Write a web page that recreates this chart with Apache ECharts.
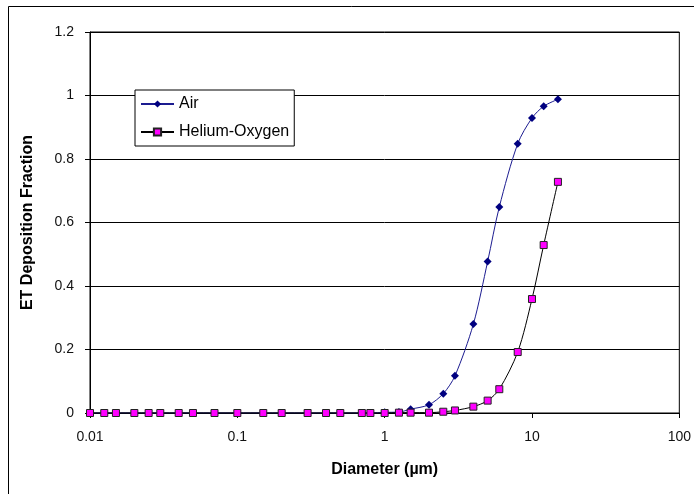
<!DOCTYPE html>
<html>
<head>
<meta charset="utf-8">
<script src="https://cdn.jsdelivr.net/npm/echarts@6/dist/echarts.min.js"></script>
<style>
  html, body { margin: 0; padding: 0; background: #fff; }
  #chart { width: 694px; height: 494px; }
</style>
</head>
<body>
<div id="chart"></div>
<script>
// Particle diameters (µm)
const diameters = [0.01, 0.0125, 0.015, 0.02, 0.025, 0.03, 0.04, 0.05, 0.07, 0.1,
                   0.15, 0.2, 0.3, 0.4, 0.5, 0.7, 0.8, 1, 1.25, 1.5,
                   2, 2.5, 3, 4, 5, 6, 8, 10, 12, 15];
// ET deposition fraction breathing air
const airFraction = [0, 0, 0, 0, 0, 0, 0, 0, 0, 0,
                     0, 0, 0, 0, 0, 0, 0, 0.002, 0.003, 0.012,
                     0.026, 0.061, 0.117, 0.28, 0.477, 0.649, 0.848, 0.929, 0.966, 0.988];
// ET deposition fraction breathing helium-oxygen
const heliumFraction = [0, 0, 0, 0, 0, 0, 0, 0, 0, 0,
                        0, 0, 0, 0, 0, 0, 0, 0, 0.001, 0.001,
                        0.001, 0.004, 0.008, 0.02, 0.039, 0.075, 0.192, 0.359, 0.529, 0.728];
const seriesNames = ['Air', 'Helium-Oxygen'];
const xTickLabels = ['0.01', '0.1', '1', '10', '100'];
const yTickLabels = ['0', '0.2', '0.4', '0.6', '0.8', '1', '1.2'];

const pairs = (ys) => diameters.map((d, i) => [d, ys[i]]);
const font = '"Liberation Sans", Arial, sans-serif';

const chart = echarts.init(document.getElementById('chart'), null, { renderer: 'canvas' });
chart.setOption({
  animation: false,
  backgroundColor: '#fff',
  textStyle: { fontFamily: font, color: '#000' },
  graphic: [{
    type: 'rect',
    shape: { x: 8.5, y: 6.5, width: 720, height: 520 },
    style: { fill: 'none', stroke: '#000', lineWidth: 1 },
    silent: true,
    z: 0
  }],
  grid: {
    left: 90, right: 14, top: 32, bottom: 81,
    show: true, borderColor: '#000', borderWidth: 1, backgroundColor: 'transparent'
  },
  legend: {
    orient: 'vertical',
    left: 135, top: 90,
    padding: [6, 5, 6, 5],
    itemGap: 12,
    itemWidth: 33, itemHeight: 9,
    backgroundColor: '#fff',
    borderColor: '#000', borderWidth: 1, borderRadius: 0,
    textStyle: { fontFamily: font, fontSize: 16, color: '#000', padding: [0, 0, 0, 0] },
    data: seriesNames
  },
  xAxis: {
    type: 'log', logBase: 10, min: 0.01, max: 100,
    name: 'Diameter (\u00b5m)', nameLocation: 'middle', nameGap: 49,
    nameTextStyle: { fontFamily: font, fontWeight: 'bold', fontSize: 16, color: '#000' },
    axisLine: { show: true, onZero: false, lineStyle: { color: '#000', width: 1 } },
    axisTick: { show: true, length: 5, lineStyle: { color: '#000' } },
    minorTick: { show: false },
    splitLine: { show: false },
    axisLabel: {
      fontFamily: font, fontSize: 14, color: '#111', margin: 17,
      formatter: (v) => xTickLabels[Math.round(Math.log10(v)) + 2]
    }
  },
  yAxis: {
    type: 'value', min: 0, max: 1.2, interval: 0.2,
    name: 'ET Deposition Fraction', nameLocation: 'middle', nameGap: 54, nameRotate: 90,
    nameTextStyle: { fontFamily: font, fontWeight: 'bold', fontSize: 16, color: '#000' },
    axisLine: { show: true, lineStyle: { color: '#000', width: 1 } },
    axisTick: { show: true, length: 5, lineStyle: { color: '#000' } },
    splitLine: { show: true, lineStyle: { color: '#000', width: 1 } },
    axisLabel: {
      fontFamily: font, fontSize: 14, color: '#111', margin: 16,
      formatter: (v) => yTickLabels[Math.round(v / 0.2)]
    }
  },
  series: [
    {
      name: seriesNames[0], type: 'line', data: pairs(airFraction),
      smooth: 0.3,
      symbol: 'diamond', symbolSize: 8,
      lineStyle: { color: '#1c1c90', width: 1 },
      itemStyle: { color: '#000080', borderColor: '#000080', borderWidth: 0 }
    },
    {
      name: seriesNames[1], type: 'line', data: pairs(heliumFraction),
      smooth: 0.3,
      symbol: 'rect', symbolSize: 7,
      lineStyle: { color: '#000', width: 1 },
      itemStyle: { color: '#ff00ff', borderColor: '#222', borderWidth: 1 }
    }
  ]
});
</script>
</body>
</html>
